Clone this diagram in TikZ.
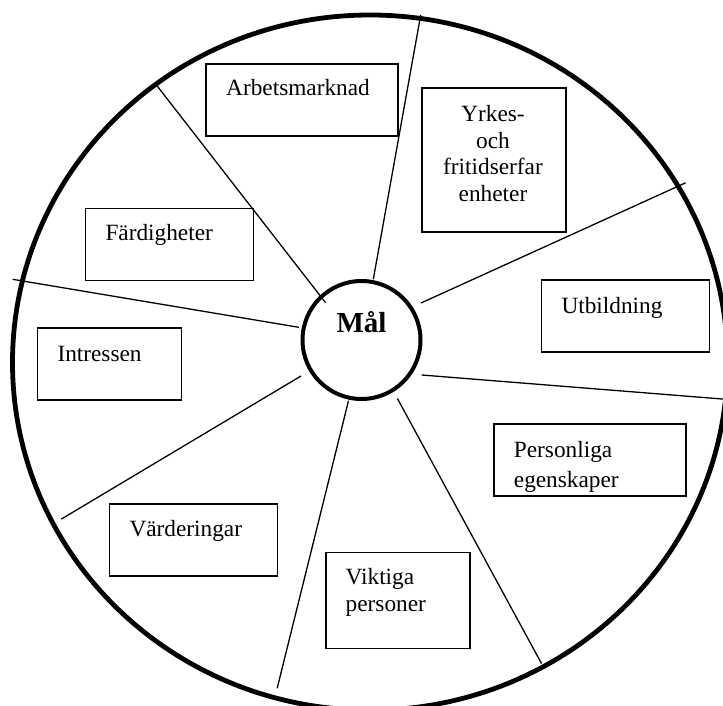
\documentclass[tikz,border=0pt]{standalone}
\usepackage{fontspec}
\setmainfont{Liberation Serif}
\begin{document}
\begin{tikzpicture}[x=1pt,y=-1pt,
  ring/.style={line width=4.8pt},
  hub/.style={circle, draw, line width=4pt, minimum size=118pt, inner sep=0pt},
  spoke/.style={line width=1.3pt},
  box/.style={draw, line width=1.5pt, inner sep=0pt, anchor=north west},
  lbl/.style={inner sep=0pt, font=\fontsize{23.3}{26.7}\selectfont},
  lblw/.style={lbl, anchor=base west},
  lblc/.style={lbl, anchor=base},
]
\useasboundingbox (0,0) rectangle (723,706);
\fill[white] (0,0) rectangle (723,706);
% outer ring
\draw[ring] (370,362.6) ellipse [x radius=357.5pt, y radius=347.6pt];
% hub
\node[hub] (mal) at (361.5,340) {};
\node[lblc, font=\fontsize{29}{33}\selectfont\bfseries] (maltext) at (361.5,332.7) {Mål};
% spoke end points
\coordinate (o1) at (156.8,85.5);  \coordinate (i1) at (325.5,302.6);
\coordinate (o2) at (420.7,15);    \coordinate (i2) at (373.3,279.3);
\coordinate (o3) at (685.6,182.8); \coordinate (i3) at (421,303);
\coordinate (o4) at (726,399.3);   \coordinate (i4) at (421.7,375);
\coordinate (o5) at (541.5,663.5); \coordinate (i5) at (397.4,398.5);
\coordinate (o6) at (277.2,688.2); \coordinate (i6) at (348.5,400.7);
\coordinate (o7) at (61.3,519.1);  \coordinate (i7) at (301,376);
\coordinate (o8) at (12.6,279.3);  \coordinate (i8) at (298.8,327.3);
\foreach \k in {1,...,8} {\draw[spoke] (i\k) -- (o\k);}
% boxes
\node[box, minimum width=192pt, minimum height=72pt] (arb) at (205,63.3) {};
\node[lblw] (arbt) at (226,96) {Arbetsmarknad};
\node[box, minimum width=144pt, minimum height=144pt] (yrk) at (421,87.3) {};
\node[lblc] (yrk1) at (493,121.7) {Yrkes-};
\node[lblc] (yrk2) at (493,148.3) {och};
\node[lblc] (yrk3) at (493,175) {fritidserfar};
\node[lblc] (yrk4) at (493,201.7) {enheter};
\node[box, minimum width=168pt, minimum height=72pt] (fard) at (84.8,207.6) {};
\node[lblw] (fardt) at (105.3,240) {Färdigheter};
\node[box, minimum width=168pt, minimum height=72pt] (utb) at (540.8,279.3) {};
\node[lblw] (utbt) at (561.3,313) {Utbildning};
\node[box, minimum width=144pt, minimum height=72pt] (intr) at (36.8,327.3) {};
\node[lblw] (intrt) at (57.3,361.7) {Intressen};
\node[box, minimum width=192pt, minimum height=72pt] (pers) at (493.2,423.3) {};
\begin{scope}
  \clip (493.2,423.3) rectangle (685.2,491);
  \node[lblw] (pers1) at (513.7,457) {Personliga};
  \node[lblw] (pers2) at (513.7,487) {egenskaper};
\end{scope}
\node[box, minimum width=168pt, minimum height=72pt] (vard) at (108.8,503.4) {};
\node[lblw] (vardt) at (129.3,536.2) {Värderingar};
\node[box, minimum width=144pt, minimum height=96pt] (vikt) at (325,551.6) {};
\node[lblw] (vikt1) at (345.5,584) {Viktiga};
\node[lblw] (vikt2) at (345.5,611.5) {personer};
\end{tikzpicture}
\end{document}
